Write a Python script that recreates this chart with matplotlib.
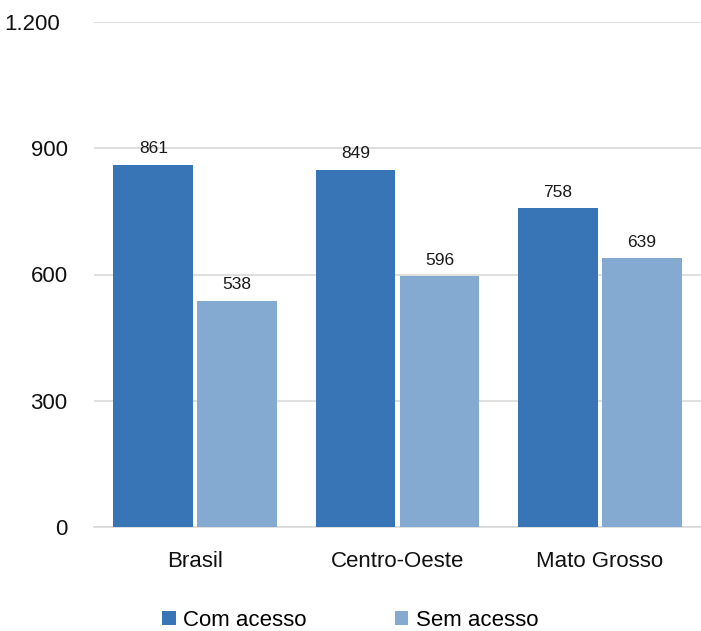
import matplotlib
matplotlib.use("Agg")
import matplotlib.pyplot as plt
import matplotlib.transforms as mtransforms
import numpy as np
from matplotlib import font_manager

categories = ["Brasil", "Centro-Oeste", "Mato Grosso"]
com_acesso = [861, 849, 758]
sem_acesso = [538, 596, 639]
series_names = ["Com acesso", "Sem acesso"]
yticks = [0, 300, 600, 900, 1200]
ytick_labels = ["0", "300", "600", "900", "1.200"]

avail = {f.name for f in font_manager.fontManager.ttflist}
fam = ["Liberation Sans Narrow"] if "Liberation Sans Narrow" in avail else ["Liberation Sans"]
plt.rcParams['font.family'] = fam + ["DejaVu Sans"]

dark = "#3775B6"
light = "#85AAD1"

fig = plt.figure(figsize=(7.01, 6.31), dpi=100)
ax = fig.add_axes([94/701, 1-527/631, 1-94/701, (527-22)/631])

x = np.arange(len(categories))
w = 0.394
off = 0.207
b1 = ax.bar(x - off, com_acesso, w, color=dark, label=series_names[0], zorder=3)
b2 = ax.bar(x + off, sem_acesso, w, color=light, label=series_names[1], zorder=3)

for bars in (b1, b2):
    for r in bars:
        ax.annotate(f"{int(r.get_height())}", (r.get_x() + r.get_width()/2, r.get_height()),
                    xytext=(0, 6), textcoords="offset points", ha="center", va="bottom",
                    fontsize=12.5, color="#1a1a1a")

ax.set_xlim(-0.5, 2.5)
ax.set_ylim(0, 1200)
ax.set_yticks(yticks)
ax.set_yticklabels(ytick_labels, fontsize=16)
ax.set_xticks(x)
ax.set_xticklabels(categories, fontsize=16)
ax.tick_params(axis="both", length=0, colors="#111111")
ax.tick_params(axis="x", pad=17)
ax.tick_params(axis="y", pad=19)
# the top label sits further left in the reference
top_lbl = ax.get_yticklabels()[-1]
top_lbl.set_transform(top_lbl.get_transform() +
                      mtransforms.ScaledTranslation(-8/100, 0, fig.dpi_scale_trans))
ax.grid(axis="y", color="#D9D9D9", linewidth=1.2, zorder=0)
for s in ["top", "right", "left"]:
    ax.spines[s].set_visible(False)
ax.spines["bottom"].set_color("#D9D9D9")
ax.spines["bottom"].set_linewidth(1.2)

fig.legend(handles=[b1, b2], labels=series_names, loc="center", bbox_to_anchor=(0.5, 1-620/631),
           ncol=2, frameon=False, fontsize=16, handlelength=0.6, handleheight=0.6,
           handletextpad=0.35, columnspacing=3.97, borderaxespad=0)

fig.savefig("out.png", dpi=100)
